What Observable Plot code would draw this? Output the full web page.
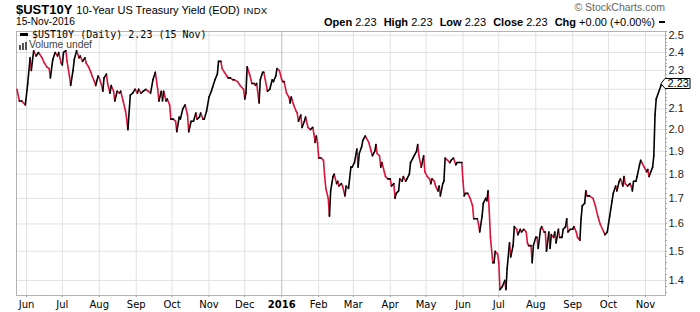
<!DOCTYPE html>
<html><head><meta charset="utf-8">
<script src="https://cdn.jsdelivr.net/npm/d3@7"></script>
<script src="https://cdn.jsdelivr.net/npm/@observablehq/plot@0.6"></script>
<style>
body{margin:0;background:#fff;}
#wrap{position:relative;width:700px;height:312px;overflow:hidden;font-family:"Liberation Sans",Arial,sans-serif;color:#000;background:#fff;}
#head{position:relative;height:30px;}
.abs{position:absolute;white-space:nowrap;}
#chart svg{display:block;}
</style></head><body>
<div id="wrap">
  <div id="head">
    <div class="abs" style="left:16px;top:1.5px;font-size:14px;line-height:14px;"><b style="font-size:13px">$UST10Y</b> <span style="font-size:11px">10-Year US Treasury Yield (EOD)</span> <span style="font-size:9.5px;letter-spacing:0.3px">INDX</span></div>
    <div class="abs" style="right:35px;top:1.6px;font-size:10.5px;line-height:10.5px;color:#666;">© StockCharts.com</div>
    <div class="abs" style="left:16px;top:17.4px;font-size:10.2px;line-height:10.2px;">15-Nov-2016</div>
    <div class="abs" style="right:35px;top:16.7px;font-size:11px;line-height:11px;"><b>Open</b> 2.23 <b style="margin-left:4px">High</b> 2.23 <b style="margin-left:4px">Low</b> 2.23 <b style="margin-left:4px">Close</b> 2.23 <b style="margin-left:4px">Chg</b> +0.00 (+0.00%) <span style="display:inline-block;width:6px;height:2px;background:#000;vertical-align:3px;margin-left:1px"></span></div>
  </div>
  <div id="chart"></div>
  <div class="abs" style="left:20px;top:33.3px;width:8px;height:2.5px;background:#000;"></div>
  <div class="abs" style="left:32px;top:30px;font-family:'DejaVu Sans Mono',monospace;font-size:10px;line-height:10px;">$UST10Y (Daily) 2.23 (15 Nov)</div>
  <svg class="abs" style="left:19px;top:41.5px" width="10" height="8"><rect x="0" y="3" width="2" height="5" fill="#555"/><rect x="3" y="1" width="2" height="7" fill="#555"/><rect x="6" y="0" width="2" height="8" fill="#555"/></svg>
  <div class="abs" style="left:29px;top:40.3px;font-size:10.3px;line-height:10.3px;color:#444;">Volume undef</div>
</div>
<script>
const dates = [
"2015-05-24","2015-05-26","2015-05-28","2015-05-31","2015-06-02","2015-06-04","2015-06-05","2015-06-07","2015-06-09","2015-06-11",
"2015-06-12","2015-06-14","2015-06-16","2015-06-18","2015-06-20","2015-06-21","2015-06-23","2015-06-25","2015-06-27","2015-06-28",
"2015-06-30","2015-07-01","2015-07-02","2015-07-04","2015-07-05","2015-07-07","2015-07-08","2015-07-10","2015-07-11","2015-07-13",
"2015-07-15","2015-07-16","2015-07-18","2015-07-20","2015-07-21","2015-07-23","2015-07-25","2015-07-26","2015-07-28","2015-07-29",
"2015-07-31","2015-08-01","2015-08-03","2015-08-04","2015-08-05","2015-08-07","2015-08-08","2015-08-10","2015-08-11","2015-08-13",
"2015-08-14","2015-08-16","2015-08-18","2015-08-19","2015-08-21","2015-08-23","2015-08-24","2015-08-25","2015-08-27","2015-08-29",
"2015-08-31","2015-09-02","2015-09-03","2015-09-05","2015-09-07","2015-09-09","2015-09-11","2015-09-13","2015-09-15","2015-09-17",
"2015-09-19","2015-09-20","2015-09-22","2015-09-23","2015-09-24","2015-09-26","2015-09-27","2015-09-29","2015-09-30","2015-10-02",
"2015-10-04","2015-10-05","2015-10-07","2015-10-08","2015-10-10","2015-10-12","2015-10-14","2015-10-15","2015-10-17","2015-10-19",
"2015-10-21","2015-10-22","2015-10-24","2015-10-25","2015-10-27","2015-10-28","2015-10-30","2015-11-01","2015-11-03","2015-11-04",
"2015-11-06","2015-11-08","2015-11-09","2015-11-11","2015-11-12","2015-11-14","2015-11-16","2015-11-17","2015-11-19","2015-11-21",
"2015-11-22","2015-11-25","2015-11-27","2015-11-30","2015-12-01","2015-12-02","2015-12-03","2015-12-05","2015-12-07","2015-12-09",
"2015-12-10","2015-12-11","2015-12-13","2015-12-14","2015-12-16","2015-12-17","2015-12-20","2015-12-22","2015-12-24","2015-12-25",
"2015-12-27","2015-12-28","2015-12-30","2016-01-01","2016-01-02","2016-01-03","2016-01-05","2016-01-07","2016-01-08","2016-01-09",
"2016-01-11","2016-01-13","2016-01-14","2016-01-15","2016-01-17","2016-01-18","2016-01-20","2016-01-21","2016-01-23","2016-01-25",
"2016-01-27","2016-01-28","2016-01-29","2016-01-30","2016-01-31","2016-02-01","2016-02-03","2016-02-05","2016-02-06","2016-02-07",
"2016-02-09","2016-02-10","2016-02-11","2016-02-13","2016-02-14","2016-02-16","2016-02-17","2016-02-18","2016-02-20","2016-02-21",
"2016-02-23","2016-02-24","2016-02-26","2016-02-28","2016-02-29","2016-03-02","2016-03-04","2016-03-05","2016-03-06","2016-03-08",
"2016-03-09","2016-03-11","2016-03-12","2016-03-14","2016-03-16","2016-03-17","2016-03-19","2016-03-20","2016-03-21","2016-03-23",
"2016-03-24","2016-03-25","2016-03-27","2016-03-28","2016-03-30","2016-04-01","2016-04-02","2016-04-04","2016-04-05","2016-04-06",
"2016-04-08","2016-04-09","2016-04-11","2016-04-12","2016-04-14","2016-04-15","2016-04-17","2016-04-18","2016-04-20","2016-04-21",
"2016-04-23","2016-04-24","2016-04-25","2016-04-27","2016-04-29","2016-04-30","2016-05-02","2016-05-04","2016-05-05","2016-05-06",
"2016-05-08","2016-05-09","2016-05-11","2016-05-12","2016-05-13","2016-05-15","2016-05-16","2016-05-17","2016-05-19","2016-05-21",
"2016-05-22","2016-05-24","2016-05-26","2016-05-27","2016-05-29","2016-05-31","2016-06-01","2016-06-02","2016-06-03","2016-06-05",
"2016-06-07","2016-06-09","2016-06-10","2016-06-13","2016-06-14","2016-06-15","2016-06-17","2016-06-18","2016-06-20","2016-06-21",
"2016-06-22","2016-06-23","2016-06-24","2016-06-26","2016-06-27","2016-06-28","2016-06-30","2016-07-01","2016-07-02","2016-07-04",
"2016-07-06","2016-07-07","2016-07-08","2016-07-10","2016-07-11","2016-07-13","2016-07-14","2016-07-16","2016-07-17","2016-07-19",
"2016-07-20","2016-07-22","2016-07-24","2016-07-25","2016-07-26","2016-07-28","2016-07-29","2016-07-30","2016-08-01","2016-08-02",
"2016-08-03","2016-08-05","2016-08-06","2016-08-08","2016-08-09","2016-08-10","2016-08-12","2016-08-13","2016-08-14","2016-08-16",
"2016-08-17","2016-08-18","2016-08-20","2016-08-21","2016-08-23","2016-08-24","2016-08-26","2016-08-27","2016-08-28","2016-08-30",
"2016-09-01","2016-09-02","2016-09-04","2016-09-05","2016-09-07","2016-09-08","2016-09-09","2016-09-11","2016-09-12","2016-09-13",
"2016-09-15","2016-09-18","2016-09-20","2016-09-22","2016-09-24","2016-09-27","2016-09-28","2016-09-30","2016-10-01","2016-10-02",
"2016-10-04","2016-10-05","2016-10-07","2016-10-08","2016-10-10","2016-10-11","2016-10-13","2016-10-14","2016-10-15","2016-10-17",
"2016-10-19","2016-10-20","2016-10-21","2016-10-22","2016-10-24","2016-10-25","2016-10-27","2016-10-28","2016-10-29","2016-10-31",
"2016-11-01","2016-11-02","2016-11-03","2016-11-04","2016-11-07","2016-11-08","2016-11-09","2016-11-10","2016-11-14","2016-11-15"
];
const yields = [
2.20,2.14,2.14,2.12,2.23,2.37,2.30,2.41,2.38,2.40,
2.39,2.37,2.34,2.32,2.31,2.26,2.36,2.40,2.38,2.40,
2.34,2.33,2.40,2.41,2.35,2.27,2.22,2.30,2.36,2.41,
2.37,2.38,2.35,2.37,2.34,2.32,2.29,2.27,2.24,2.22,
2.27,2.26,2.22,2.19,2.26,2.28,2.23,2.18,2.22,2.19,
2.14,2.19,2.18,2.19,2.14,2.09,2.05,2.00,2.17,2.18,
2.20,2.18,2.20,2.18,2.19,2.20,2.19,2.18,2.25,2.29,
2.20,2.14,2.19,2.14,2.19,2.14,2.15,2.12,2.05,2.05,
2.04,1.99,2.06,2.05,2.10,2.12,2.07,1.99,2.04,2.04,
2.08,2.05,2.06,2.08,2.05,2.05,2.09,2.16,2.19,2.21,
2.25,2.28,2.35,2.35,2.31,2.29,2.27,2.26,2.26,2.25,
2.25,2.24,2.22,2.20,2.15,2.18,2.32,2.28,2.23,2.23,
2.22,2.23,2.13,2.25,2.29,2.29,2.19,2.20,2.25,2.24,
2.27,2.31,2.30,2.25,2.24,2.24,2.18,2.16,2.13,2.16,
2.12,2.09,2.08,2.04,2.07,2.01,2.04,2.06,2.01,2.00,
2.01,1.98,1.94,1.97,1.94,1.87,1.87,1.86,1.79,1.74,
1.70,1.63,1.73,1.79,1.80,1.76,1.77,1.75,1.76,1.75,
1.71,1.75,1.74,1.83,1.83,1.85,1.91,1.83,1.89,1.92,
1.95,1.97,1.96,1.94,1.90,1.88,1.90,1.93,1.89,1.88,
1.83,1.85,1.81,1.79,1.78,1.78,1.75,1.76,1.70,1.72,
1.73,1.78,1.77,1.79,1.77,1.78,1.80,1.85,1.87,1.88,
1.90,1.93,1.88,1.83,1.88,1.81,1.79,1.78,1.76,1.78,
1.77,1.75,1.73,1.75,1.71,1.76,1.77,1.87,1.86,1.85,
1.86,1.87,1.84,1.85,1.85,1.85,1.77,1.71,1.72,1.72,
1.70,1.67,1.62,1.62,1.60,1.57,1.63,1.68,1.70,1.69,
1.73,1.65,1.55,1.46,1.46,1.50,1.49,1.46,1.37,1.38,
1.40,1.37,1.44,1.53,1.48,1.52,1.59,1.58,1.56,1.58,
1.57,1.58,1.57,1.53,1.52,1.52,1.46,1.52,1.55,1.55,
1.51,1.58,1.59,1.57,1.57,1.50,1.57,1.51,1.56,1.55,
1.57,1.53,1.58,1.55,1.55,1.58,1.59,1.62,1.57,1.58,
1.58,1.59,1.57,1.55,1.54,1.62,1.67,1.68,1.73,1.71,
1.71,1.70,1.67,1.63,1.60,1.57,1.56,1.57,1.60,1.63,
1.69,1.72,1.75,1.73,1.77,1.78,1.75,1.79,1.76,1.75,
1.76,1.75,1.73,1.77,1.77,1.79,1.84,1.86,1.85,1.83,
1.82,1.81,1.82,1.79,1.83,1.88,2.07,2.15,2.22,2.23
];
const monthTicks = ["2015-06-01","2015-07-01","2015-08-01","2015-09-01","2015-10-01","2015-11-01","2015-12-01","2016-01-01","2016-02-01","2016-03-01","2016-04-01","2016-05-01","2016-06-01","2016-07-01","2016-08-01","2016-09-01","2016-10-01","2016-11-01"];
const monthLabels = ["Jun","Jul","Aug","Sep","Oct","Nov","Dec","2016","Feb","Mar","Apr","May","Jun","Jul","Aug","Sep","Oct","Nov"];
const yTicks = [1.4,1.5,1.6,1.7,1.8,1.9,2.0,2.1,2.2,2.3,2.4,2.5];
const yTickLabels = ["1.4","1.5","1.6","1.7","1.8","1.9","2.0","2.1","","2.3","2.4","2.5"]; // 2.2 sits under the last-value flag
const lastLabel = "2.23";

const pts = dates.map((d, i) => ({date: new Date(d), v: yields[i]}));
const segs = pts.slice(1).map((p, i) => ({x1: pts[i].date, y1: pts[i].v, x2: p.date, y2: p.v, up: p.v >= pts[i].v}));
const tickDates = monthTicks.map(d => new Date(d));
const labelFor = d => { const i = tickDates.findIndex(t => +t === +d); return i >= 0 ? monthLabels[i] : ""; };
const yLabelFor = d => { const i = yTicks.findIndex(t => Math.abs(t - d) < 1e-9); return i >= 0 ? yTickLabels[i] : ""; };

const plot = Plot.plot({
  width: 700, height: 282,
  marginTop: 1, marginLeft: 16, marginRight: 35, marginBottom: 17,
  style: {fontFamily: "Liberation Sans, Arial, sans-serif", fontSize: "11px", background: "white", color: "#000"},
  x: {type: "utc", domain: [new Date("2015-05-23T14:00Z"), new Date("2016-11-17T19:00Z")], ticks: tickDates, tickFormat: labelFor, tickSize: 2, tickPadding: 3, label: null},
  y: {type: "log", domain: [1.351, 2.522], axis: "right", ticks: yTicks, tickFormat: yLabelFor, tickSize: 0, tickPadding: 3, label: null},
  marks: [
    Plot.ruleY(yTicks, {stroke: "#e2e2e2"}),
    Plot.ruleX(tickDates, {stroke: d => labelFor(d) === "2016" ? "#bdbdbd" : "#e2e2e2"}),
    Plot.frame({stroke: "#b3b3b3"}),
    Plot.link(segs.filter(s => !s.up), {x1: "x1", y1: "y1", x2: "x2", y2: "y2", stroke: "#d8143c", strokeWidth: 1.6, strokeLinecap: "round"}),
    Plot.link(segs.filter(s => s.up), {x1: "x1", y1: "y1", x2: "x2", y2: "y2", stroke: "#000", strokeWidth: 1.6, strokeLinecap: "round"})
  ]
});
document.getElementById("chart").appendChild(plot);

const svg = d3.select(plot);
svg.selectAll('[aria-label^="x-axis"] text').attr("font-family", "DejaVu Sans, Verdana, sans-serif").attr("font-size", 10).attr("fill", "#000")
  .attr("font-weight", function(){ return this.textContent === "2016" ? "bold" : null; });
svg.selectAll('[aria-label^="x-axis"] path, [aria-label^="x-axis"] line').attr("stroke", "#999");
svg.selectAll('[aria-label^="y-axis"] text').attr("font-size", 11).attr("fill", "#222");

const ys = plot.scale("y");
const xr = 700 - 35;
const gm = svg.append("g").attr("stroke", "#aaa");
d3.range(1.36, 2.521, 0.02).forEach(v => {
  const y = Math.round(ys.apply(v)) + 0.5;
  gm.append("line").attr("x1", xr).attr("x2", xr + 2).attr("y1", y).attr("y2", y);
});
const yl = Math.round(ys.apply(yields[yields.length - 1])) + 0.5;
svg.append("path").attr("d", `M${xr - 4},${yl} L${xr},${yl - 5} L${xr + 25},${yl - 5} L${xr + 25},${yl + 5} L${xr},${yl + 5} Z`).attr("fill", "white").attr("stroke", "#000");
svg.append("text").attr("x", xr + 2.5).attr("y", yl).attr("dy", "0.35em").attr("text-anchor", "start")
  .attr("font-size", 11).attr("fill", "#000").text(lastLabel);
</script>
</body></html>
